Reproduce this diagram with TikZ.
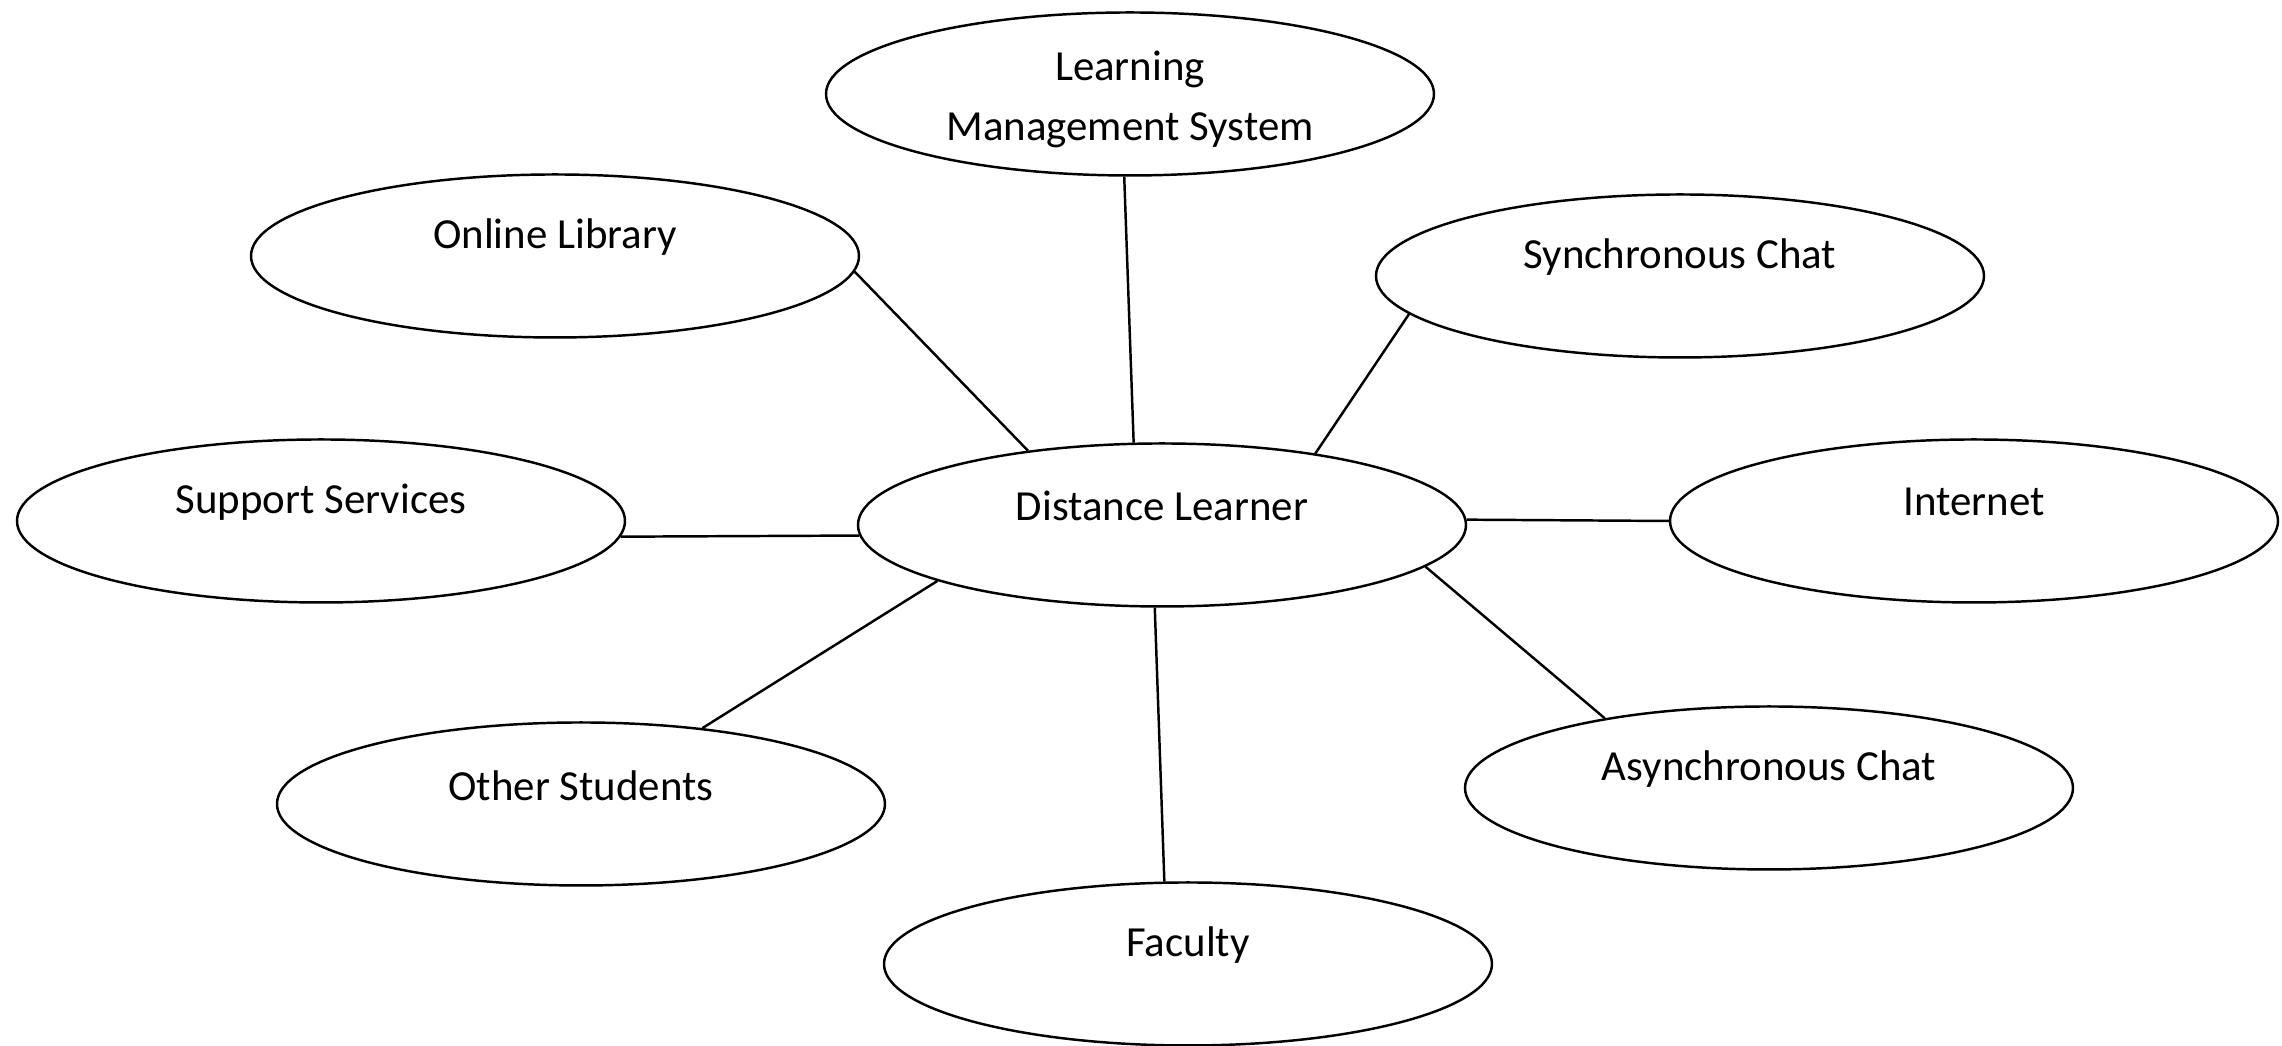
\documentclass[tikz,border=0pt]{standalone}
\usepackage{fontspec}
\setmainfont{Carlito}
\usetikzlibrary{shapes.geometric}

\begin{document}
\begin{tikzpicture}[
	bubble/.style={draw, ellipse, line width=0.7pt, minimum width=6.08cm, minimum height=1.63cm, inner sep=0pt},
	caption/.style={font=\fontsize{12.2}{17.2}\selectfont, anchor=base, yshift=5.3pt, align=center},
	link/.style={line width=0.7pt}
	]
		% Fix the page size
		\useasboundingbox (0,0) rectangle (22.82,10.46);
		
		% Draw central ellipse
		\node[bubble, label={[caption]center:Distance Learner}] (learner) at (11.62,5.21) {};
		
		% Draw outer ellipses
		\node[bubble, label={[caption, yshift=-6.8pt]center:Learning\\Management System}] (lms) at (11.30,9.52) {};
		\node[bubble, label={[caption]center:Online Library}] (library) at (5.55,7.90) {};
		\node[bubble, label={[caption]center:Synchronous Chat}] (sync) at (16.80,7.70) {};
		\node[bubble, label={[caption]center:Support Services}] (support) at (3.21,5.25) {};
		\node[bubble, label={[caption]center:Internet}] (internet) at (19.74,5.25) {};
		\node[bubble, label={[caption]center:Other Students}] (others) at (5.81,2.42) {};
		\node[bubble, label={[caption]center:Asynchronous Chat}] (async) at (17.69,2.58) {};
		\node[bubble, label={[caption]center:Faculty}] (faculty) at (11.88,0.82) {};
		
		% Draw connections
		\draw[link] (lms.-94) -- (learner.109);
		\draw[link] (library.-3) -- (learner.151);
		\draw[link] (sync.188) -- (learner.25);
		\draw[link] (support.-3) -- (learner.182);
		\draw[link] (internet.180) -- (learner.1);
		\draw[link] (others.32) -- (learner.-166);
		\draw[link] (async.157) -- (learner.-9);
		\draw[link] (faculty.106) -- (learner.-95);
		
	\end{tikzpicture}
\end{document}
